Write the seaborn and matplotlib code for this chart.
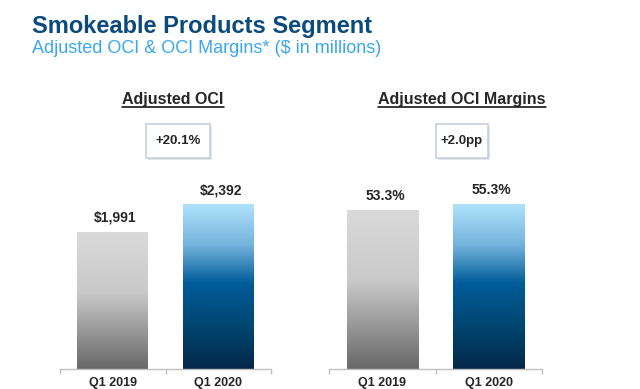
import matplotlib.pyplot as plt
import numpy as np
import seaborn as sns
from matplotlib.colors import LinearSegmentedColormap
from matplotlib.patches import Rectangle
from matplotlib.lines import Line2D

# Data
quarters = ["Q1 2019", "Q1 2020"]
oci = [1991, 2392]
oci_labels = ["$1,991", "$2,392"]
margins = [53.3, 55.3]
margin_labels = ["53.3%", "55.3%"]
oci_change = "+20.1%"
margin_change = "+2.0pp"

sns.set_style("white")
plt.rcParams['font.family'] = ['Liberation Sans', 'DejaVu Sans']

gray_cmap = LinearSegmentedColormap.from_list(
    "gray_grad", [(0, "#dadada"), (0.45, "#c9c9c9"), (1, "#686868")])
blue_cmap = LinearSegmentedColormap.from_list(
    "blue_grad", [(0, "#b0e2fb"), (0.25, "#72b2dc"), (0.48, "#005c99"),
                  (0.75, "#00456f"), (1, "#05284a")])

fig = plt.figure(figsize=(6.4, 3.89), dpi=100)
W, H = 640, 389


def px(x, y):
    # pixel (from top-left) -> figure fraction
    return x / W, 1 - y / H


fig.text(*px(32, 33), "Smokeable Products Segment", fontsize=17,
         fontweight="bold", color="#0b4a7d", va="baseline")
fig.text(*px(32, 53), "Adjusted OCI & OCI Margins* ($ in millions)",
         fontsize=13, color="#3aa8f0", va="baseline")


def draw_panel(rect, values, labels, ymax):
    ax = fig.add_axes(rect)
    sns.barplot(x=quarters, y=values, hue=quarters, legend=False,
                palette=["#cccccc", "#005c99"], width=0.67, ax=ax)
    grad = np.linspace(0, 1, 256).reshape(-1, 1)
    for patch, cmap in zip(ax.patches, [gray_cmap, blue_cmap]):
        x0, w = patch.get_x(), patch.get_width()
        h = patch.get_height()
        im = ax.imshow(grad, cmap=cmap, aspect="auto",
                       extent=[x0, x0 + w, 0, h], zorder=2)
        im.set_clip_path(patch)
        patch.set_facecolor("none")
        patch.set_edgecolor("none")
    for i, (v, lab) in enumerate(zip(values, labels)):
        ax.annotate(lab, (i, v), xytext=(2, 5), textcoords="offset points",
                    ha="center", va="bottom", fontsize=10, fontweight="bold")
    ax.set_xlim(-0.5, 1.5)
    ax.set_ylim(0, ymax)
    ax.set_yticks([])
    ax.set_xticks([0, 1])
    ax.set_xticklabels(quarters, fontsize=9, fontweight="bold")
    ax.set_xticks([-0.5, 0.5, 1.5], minor=True)
    ax.tick_params(axis="x", which="major", length=0, pad=5.5)
    ax.tick_params(axis="x", which="minor", length=3.5, width=1,
                   color="#bfbfbf", direction="out", bottom=True)
    for s in ["left", "right", "top"]:
        ax.spines[s].set_visible(False)
    ax.spines["bottom"].set_color("#bfbfbf")
    ax.spines["bottom"].set_linewidth(1)
    ax.set_xlabel("")
    ax.set_ylabel("")
    ax.patch.set_alpha(0)
    return ax


draw_panel([60 / W, 20 / H, 211 / W, 185 / H], oci, oci_labels,
           oci[1] * 185 / 165)
draw_panel([329 / W, 20 / H, 213 / W, 185 / H], margins, margin_labels,
           margins[1] * 185 / 165)

# panel titles (underlined)
titles = []
for cx, txt in [(173, "Adjusted OCI"), (462, "Adjusted OCI Margins")]:
    t = fig.text(*px(cx, 104), txt, fontsize=11.5, fontweight="bold",
                 ha="center", va="baseline")
    titles.append(t)

# change boxes with soft shadow
for (x0, x1), txt in [((146, 210), oci_change), ((436, 488), margin_change)]:
    y0, y1 = 124, 158
    fig.patches.append(Rectangle(px(x0 + 1.5, y1 + 1.5), (x1 - x0) / W,
                                 (y1 - y0) / H, transform=fig.transFigure,
                                 fc="#e2e5ea", ec="none", zorder=1))
    fig.patches.append(Rectangle(px(x0, y1), (x1 - x0) / W, (y1 - y0) / H,
                                 transform=fig.transFigure, fc="white",
                                 ec="#c8cfdb", lw=1.2, zorder=2))
    fig.text(*px((x0 + x1) / 2, (y0 + y1) / 2), txt, fontsize=9.5,
             fontweight="bold", ha="center", va="center", zorder=3)

fig.canvas.draw()
renderer = fig.canvas.get_renderer()
for t in titles:
    bb = t.get_window_extent(renderer)
    y = 1 - 107 / H
    fig.lines.append(Line2D([bb.x0 / W, bb.x1 / W], [y, y],
                            transform=fig.transFigure, color="black", lw=1.1))

fig.savefig("out.png", dpi=100)
